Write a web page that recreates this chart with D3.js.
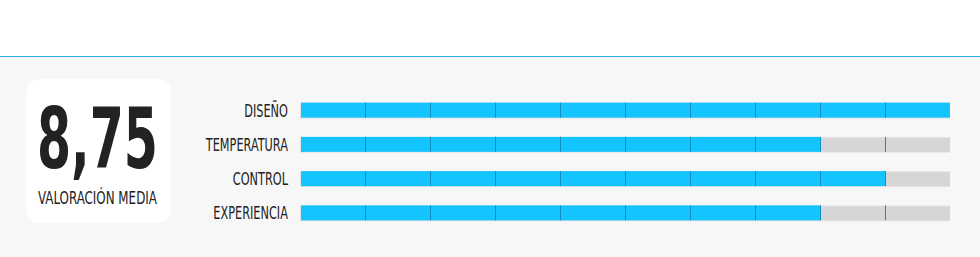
<!DOCTYPE html>
<html>
<head>
<meta charset="utf-8">
<script src="https://cdn.jsdelivr.net/npm/d3@7"></script>
<style>
  body { margin: 0; background: #fff; }
  svg { display: block; }
  .lbl { font-family: "DejaVu Sans Condensed", "DejaVu Sans", sans-serif; fill: #222; }
</style>
</head>
<body>
<svg id="chart" width="980" height="257"></svg>
<script>
// ratings per category (out of 10)
let categories = ['DISEÑO', 'TEMPERATURA', 'CONTROL', 'EXPERIENCIA'];
let scores = [10, 8, 9, 8];
let average = '8,75';
let averageLabel = 'VALORACIÓN MEDIA';
let maxScore = 10;

const svg = d3.select('#chart');

// squeeze text horizontally to mimic a narrow display font
function narrow(sel, x, y, width, anchor) {
    sel.each(function() {
        const w = this.getComputedTextLength();
        const k = width ? width / w : 0.74;
        const dx = anchor === 'end' ? -w : 0;
        d3.select(this)
            .attr('x', dx)
            .attr('transform', `translate(${x},${y}) scale(${k},1)`);
    });
}

// panel background + top rule
svg.append('rect').attr('x', 0).attr('y', 57).attr('width', 980).attr('height', 200).attr('fill', '#f7f7f7');
svg.append('rect').attr('x', 0).attr('y', 56).attr('width', 980).attr('height', 1).attr('fill', '#2db3e6');

// average box
svg.append('rect')
    .attr('x', 26).attr('y', 79).attr('width', 145).attr('height', 144)
    .attr('rx', 13).attr('fill', '#fff');

svg.append('text')
    .attr('class', 'lbl')
    .attr('font-size', 84).attr('font-weight', 'bold')
    .text(average)
    .call(narrow, 37, 168, 121);

svg.append('text')
    .attr('class', 'lbl')
    .attr('font-size', 18)
    .text(averageLabel)
    .call(narrow, 38, 204, 119);

// scales
const x = d3.scaleLinear().domain([0, maxScore]).range([300, 950]);
const y = d3.scaleBand().domain(categories).range([93.5, 230.5]);

const rows = svg.selectAll('.row')
    .data(categories.map((c, i) => ({ name: c, value: scores[i] })))
    .enter()
    .append('g')
    .attr('class', 'row')
    .attr('transform', d => `translate(0,${y(d.name) + y.bandwidth() / 2})`);

// track
rows.append('rect')
    .attr('x', x(0)).attr('y', -8)
    .attr('width', x(maxScore) - x(0)).attr('height', 16)
    .attr('fill', '#e6e6e6');
rows.append('rect')
    .attr('x', x(0) + 1).attr('y', -7)
    .attr('width', x(maxScore) - x(0) - 1).attr('height', 14)
    .attr('fill', '#d6d6d6');

// value bar
rows.append('rect')
    .attr('x', x(0) + 1).attr('y', -8)
    .attr('width', d => x(d.value) - x(0) - 1).attr('height', 15)
    .attr('fill', '#14c4ff');

// segment ticks
rows.selectAll('.tick')
    .data(x.ticks(maxScore).filter(t => t > 0 && t < maxScore))
    .enter()
    .append('rect')
    .attr('x', t => x(t)).attr('y', -8)
    .attr('width', 1).attr('height', 15)
    .attr('fill', '#0d8fc2');

// labels
rows.append('text')
    .attr('class', 'lbl')
    .attr('font-size', 17)
    .text(d => d.name)
    .each(function() { d3.select(this).call(narrow, 288, 6, null, 'end'); });
</script>
</body>
</html>
